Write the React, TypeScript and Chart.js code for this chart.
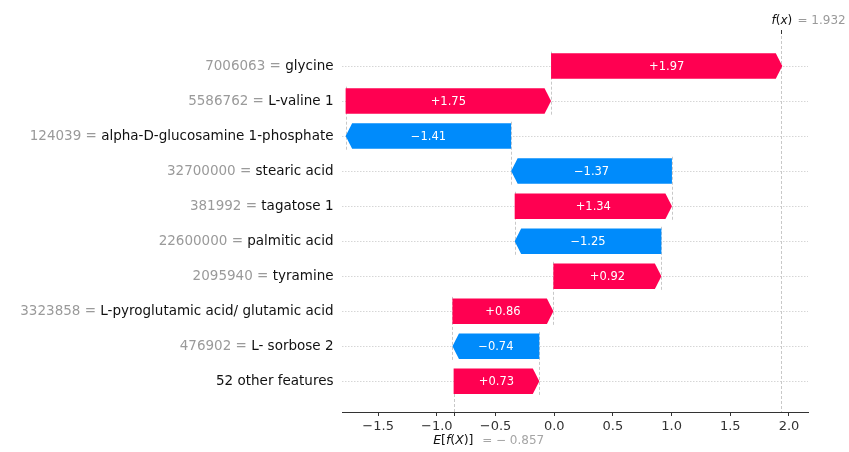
import React, { useEffect, useRef } from "react";
import { Chart, registerables } from "chart.js";

Chart.register(...registerables);

// Rows listed bottom -> top
const featureNames = [
  "52 other features",
  "L- sorbose 2",
  "L-pyroglutamic acid/ glutamic acid",
  "tyramine",
  "palmitic acid",
  "tagatose 1",
  "stearic acid",
  "alpha-D-glucosamine 1-phosphate",
  "L-valine 1",
  "glycine",
];
const featureValues = [
  "",
  "476902",
  "3323858",
  "2095940",
  "22600000",
  "381992",
  "32700000",
  "124039",
  "5586762",
  "7006063",
];
const shapValues = [0.73, -0.74, 0.86, 0.92, -1.25, 1.34, -1.37, -1.41, 1.75, 1.97];
const baseValue = -0.857;
const fxValue = 1.932;
const xTicks = [-1.5, -1.0, -0.5, 0.0, 0.5, 1.0, 1.5, 2.0];

const RED = "#ff0051";
const BLUE = "#008bfb";
const FONT = "'DejaVu Sans', sans-serif";

const fmtTick = (v: number) => (v < 0 ? "\u2212" : "") + Math.abs(v).toFixed(1);
const fmtShap = (v: number) => (v < 0 ? "\u2212" : "+") + Math.abs(v).toFixed(2);

export default function App() {
  const canvasRef = useRef<HTMLCanvasElement | null>(null);

  useEffect(() => {
    const canvas = canvasRef.current;
    if (!canvas) return;

    const starts: number[] = [];
    const ends: number[] = [];
    let acc = baseValue;
    shapValues.forEach((v) => {
      starts.push(acc);
      acc += v;
      ends.push(acc);
    });

    const n = shapValues.length;

    const drawSegments = (
      ctx: CanvasRenderingContext2D,
      segs: { t: string; italic?: boolean }[],
      x: number,
      y: number,
      size: number,
      color: string
    ) => {
      let cx = x;
      ctx.fillStyle = color;
      ctx.textAlign = "left";
      ctx.textBaseline = "middle";
      segs.forEach((s) => {
        ctx.font = `${s.italic ? "italic " : ""}${size}px ${FONT}`;
        ctx.fillText(s.t, cx, y);
        cx += ctx.measureText(s.t).width;
      });
      return cx;
    };

    const plugin = {
      id: "waterfall",
      beforeDatasetsDraw(chart: any) {
        const { ctx, chartArea, scales } = chart;
        const xs = scales.x;
        const ys = scales.y;
        ctx.save();
        ctx.lineWidth = 1;
        // horizontal dotted row lines
        ctx.strokeStyle = "#d6d6d6";
        ctx.setLineDash([1.5, 1.5]);
        for (let i = 0; i < n; i++) {
          const py = Math.round(ys.getPixelForValue(i)) + 0.5;
          ctx.beginPath();
          ctx.moveTo(chartArea.left, py);
          ctx.lineTo(chartArea.right, py);
          ctx.stroke();
        }
        // connectors
        ctx.strokeStyle = "#c8c8c8";
        ctx.setLineDash([3, 2]);
        for (let i = 1; i < n; i++) {
          const px = Math.round(xs.getPixelForValue(starts[i])) + 0.5;
          ctx.beginPath();
          ctx.moveTo(px, ys.getPixelForValue(i + 0.41));
          ctx.lineTo(px, ys.getPixelForValue(i - 1 - 0.41));
          ctx.stroke();
        }
        // base value line
        const bx = Math.round(xs.getPixelForValue(baseValue)) + 0.5;
        ctx.beginPath();
        ctx.moveTo(bx, chartArea.bottom);
        ctx.lineTo(bx, ys.getPixelForValue(0));
        ctx.stroke();
        // f(x) line
        const fx = Math.round(xs.getPixelForValue(fxValue)) + 0.5;
        ctx.beginPath();
        ctx.moveTo(fx, chartArea.top);
        ctx.lineTo(fx, chartArea.bottom);
        ctx.stroke();
        ctx.restore();
      },
      beforeDatasetDraw() {
        return false;
      },
      afterDatasetsDraw(chart: any) {
        const { ctx, scales } = chart;
        const xs = scales.x;
        const meta = chart.getDatasetMeta(0);
        ctx.save();
        meta.data.forEach((el: any, i: number) => {
          const { y: cy, height: h } = el.getProps(["y", "height"], true);
          const x0 = xs.getPixelForValue(starts[i]);
          const x1 = xs.getPixelForValue(ends[i]);
          const top = cy - h / 2;
          const bot = cy + h / 2;
          const dir = x1 >= x0 ? 1 : -1;
          const hl = Math.min(6.5, Math.abs(x1 - x0));
          ctx.fillStyle = shapValues[i] >= 0 ? RED : BLUE;
          ctx.beginPath();
          ctx.moveTo(x0, top);
          ctx.lineTo(x1 - dir * hl, top);
          ctx.lineTo(x1, cy);
          ctx.lineTo(x1 - dir * hl, bot);
          ctx.lineTo(x0, bot);
          ctx.closePath();
          ctx.fill();
          ctx.fillStyle = "#ffffff";
          ctx.font = `11.5px ${FONT}`;
          ctx.textAlign = "center";
          ctx.textBaseline = "middle";
          ctx.fillText(fmtShap(shapValues[i]), (x0 + x1) / 2, cy + 0.5);
        });
        ctx.restore();
      },
      afterDraw(chart: any) {
        const { ctx, chartArea, scales } = chart;
        const xs = scales.x;
        const ys = scales.y;
        ctx.save();
        // row labels
        const xr = chartArea.left - 8.5;
        for (let i = 0; i < n; i++) {
          const py = ys.getPixelForValue(i);
          ctx.font = `13.5px ${FONT}`;
          ctx.textBaseline = "middle";
          ctx.textAlign = "right";
          ctx.fillStyle = "#111111";
          ctx.fillText(featureNames[i], xr, py);
          const w = ctx.measureText(featureNames[i]).width;
          if (featureValues[i]) {
            ctx.fillStyle = "#9a9a9a";
            ctx.fillText(featureValues[i] + " = ", xr - w, py);
          }
        }
        // f(x) label
        const fx = xs.getPixelForValue(fxValue);
        drawSegments(
          ctx,
          [{ t: "f", italic: true }, { t: "(" }, { t: "x", italic: true }, { t: ")" }],
          fx - 9.5,
          21,
          12,
          "#111111"
        );
        drawSegments(ctx, [{ t: "= " + fxValue.toFixed(3) }], fx + 16.5, 21, 12, "#9a9a9a");
        // top tick
        ctx.strokeStyle = "#333333";
        ctx.lineWidth = 1;
        ctx.setLineDash([]);
        const fxr = Math.round(fx) + 0.5;
        ctx.beginPath();
        ctx.moveTo(fxr, chartArea.top - 1);
        ctx.lineTo(fxr, chartArea.top + 3);
        ctx.stroke();
        // E[f(X)] label
        const bx = xs.getPixelForValue(baseValue);
        drawSegments(
          ctx,
          [
            { t: "E", italic: true },
            { t: "[" },
            { t: "f", italic: true },
            { t: "(" },
            { t: "X", italic: true },
            { t: ")" },
            { t: "]" },
          ],
          bx - 20.5,
          441,
          12.5,
          "#111111"
        );
        drawSegments(
          ctx,
          [{ t: "= \u2212 " + Math.abs(baseValue).toFixed(3) }],
          bx + 28.5,
          441,
          12,
          "#a5a5a5"
        );
        const bxr = Math.round(bx) + 0.5;
        ctx.beginPath();
        ctx.moveTo(bxr, chartArea.bottom);
        ctx.lineTo(bxr, chartArea.bottom + 4);
        ctx.stroke();
        ctx.restore();
      },
    };

    const chart = new Chart(canvas, {
      type: "bar",
      data: {
        datasets: [
          {
            data: shapValues.map((_, i) => ({ y: i, x: [starts[i], ends[i]] })) as any,
            backgroundColor: shapValues.map((v) => (v >= 0 ? RED : BLUE)),
            barPercentage: 0.83,
            categoryPercentage: 1,
          },
        ],
      },
      options: {
        indexAxis: "y",
        responsive: false,
        animation: false,
        devicePixelRatio: 1,
        layout: { padding: { left: 342, right: 41, top: 31, bottom: 0 } },
        plugins: { legend: { display: false }, tooltip: { enabled: false } },
        scales: {
          x: {
            type: "linear",
            min: -1.808,
            max: 2.162,
            afterBuildTicks: (s: any) => {
              s.ticks = xTicks.map((v) => ({ value: v }));
            },
            afterFit: (s: any) => {
              s.height = 40;
            },
            border: { display: true, color: "#333333", width: 1 },
            grid: { drawOnChartArea: false, drawTicks: true, tickLength: 4, color: "#333333" },
            ticks: {
              color: "#333333",
              font: { family: FONT, size: 13 },
              padding: 3,
              maxRotation: 0,
              autoSkip: false,
              callback: (v: any) => fmtTick(Number(v)),
            },
          },
          y: {
            type: "linear",
            display: false,
            offset: false,
            grid: { offset: false },
            min: -0.877,
            max: 10,
          },
        },
      },
      plugins: [plugin],
    } as any);

    return () => chart.destroy();
  }, []);

  return (
    <div style={{ position: "absolute", left: 0, top: 0, width: 849, height: 452, background: "#fff" }}>
      <canvas ref={canvasRef} width={849} height={452} style={{ display: "block" }} />
    </div>
  );
}
